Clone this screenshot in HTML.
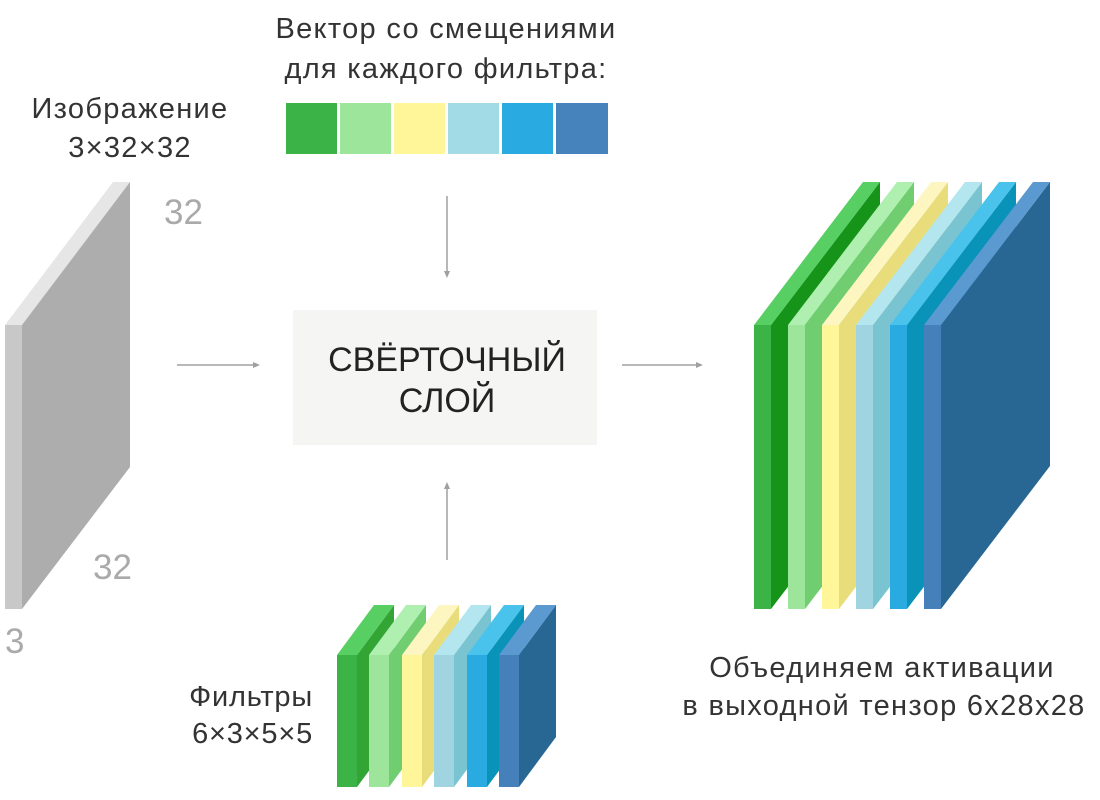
<!DOCTYPE html>
<html><head><meta charset="utf-8"><style>
html,body{margin:0;padding:0;background:#fff;}
svg{display:block;}
text{font-family:"Liberation Sans","DejaVu Sans",sans-serif;}
</style></head><body>
<svg width="1100" height="800" viewBox="0 0 1100 800" xmlns="http://www.w3.org/2000/svg">
<rect width="1100" height="800" fill="#fff"/>
<g fill="#333" font-size="29" text-anchor="middle" letter-spacing="1.3">
<text x="446" y="38">Вектор со смещениями</text>
<text x="446" y="78">для каждого фильтра:</text>
<text x="130" y="118">Изображение</text>
<text x="130" y="157">3×32×32</text>
<text x="882" y="677">Объединяем активации</text>
<text x="884" y="715">в выходной тензор 6x28x28</text>
</g>
<g fill="#333" font-size="29" text-anchor="end" letter-spacing="0.8">
<text x="313" y="706">Фильтры</text>
<text x="313" y="743">6×3×5×5</text>
</g>
<g>
<rect x="286" y="103" width="51" height="51" fill="#3bb346"/>
<rect x="340" y="103" width="51" height="51" fill="#9de59a"/>
<rect x="394" y="103" width="51" height="51" fill="#fff599"/>
<rect x="448" y="103" width="51" height="51" fill="#a2dbe6"/>
<rect x="502" y="103" width="51" height="51" fill="#29aae1"/>
<rect x="556" y="103" width="52" height="51" fill="#4682bc"/>
</g>
<polygon points="5,325 22,325 130,182 113,182" fill="#e6e6e6"/>
<polygon points="22,325 130,182 130,467 22,609" fill="#adadad"/>
<rect x="5" y="325" width="17" height="284" fill="#c8c8c8"/>
<g fill="#aaa" font-size="35">
<text x="164" y="224">32</text>
<text x="93" y="579">32</text>
<text x="5" y="653">3</text>
</g>
<rect x="293" y="310" width="304" height="135" fill="#f5f5f3"/>
<g fill="#222" font-size="34" text-anchor="middle">
<text x="447" y="371">СВЁРТОЧНЫЙ</text>
<text x="447" y="412">СЛОЙ</text>
</g>
<g stroke="#a0a0a0" stroke-width="1.5" fill="#a0a0a0">
<line x1="177" y1="365" x2="254" y2="365"/>
<polygon points="260,365 253,362 253,368" stroke="none"/>
<line x1="622" y1="365" x2="697" y2="365"/>
<polygon points="703,365 696,362 696,368" stroke="none"/>
<line x1="447" y1="196" x2="447" y2="272"/>
<polygon points="447,278 444,271 450,271" stroke="none"/>
<line x1="447" y1="560" x2="447" y2="488"/>
<polygon points="447,482 444,489 450,489" stroke="none"/>
</g>
<g>
<polygon points="771,325 880,182 880,466 771,609" fill="#16941a"/>
<polygon points="754,325 771,325 880,182 863,182" fill="#58cf63"/>
<rect x="754" y="325" width="17" height="284" fill="#3bb346"/>
<polygon points="805,325 914,182 914,466 805,609" fill="#70cd70"/>
<polygon points="788,325 805,325 914,182 897,182" fill="#aff0b1"/>
<rect x="788" y="325" width="17" height="284" fill="#9de59a"/>
<polygon points="839,325 948,182 948,466 839,609" fill="#e9dd7b"/>
<polygon points="822,325 839,325 948,182 931,182" fill="#fdf6c0"/>
<rect x="822" y="325" width="17" height="284" fill="#fff599"/>
<polygon points="873,325 982,182 982,466 873,609" fill="#7ac4d2"/>
<polygon points="856,325 873,325 982,182 965,182" fill="#b4e6ef"/>
<rect x="856" y="325" width="17" height="284" fill="#a0d4e0"/>
<polygon points="907,325 1016,182 1016,466 907,609" fill="#0993b8"/>
<polygon points="890,325 907,325 1016,182 999,182" fill="#4ac3ec"/>
<rect x="890" y="325" width="17" height="284" fill="#29aae1"/>
<polygon points="941,325 1050,182 1050,466 941,609" fill="#286793"/>
<polygon points="924,325 941,325 1050,182 1033,182" fill="#5b9ad0"/>
<rect x="924" y="325" width="17" height="284" fill="#4680bb"/>
</g>
<g>
<polygon points="357,655 394,605 394,737 357,787" fill="#33a535"/>
<polygon points="337,655 357,655 394,605 374,605" fill="#58cf63"/>
<rect x="337" y="655" width="20" height="132" fill="#3bb346"/>
<polygon points="389,655 426,605 426,737 389,787" fill="#70cd70"/>
<polygon points="369,655 389,655 426,605 406,605" fill="#aff0b1"/>
<rect x="369" y="655" width="20" height="132" fill="#9de59a"/>
<polygon points="422,655 459,605 459,737 422,787" fill="#e9dd7b"/>
<polygon points="402,655 422,655 459,605 439,605" fill="#fdf6c0"/>
<rect x="402" y="655" width="20" height="132" fill="#fff599"/>
<polygon points="454,655 491,605 491,737 454,787" fill="#7ac4d2"/>
<polygon points="434,655 454,655 491,605 471,605" fill="#b4e6ef"/>
<rect x="434" y="655" width="20" height="132" fill="#a0d4e0"/>
<polygon points="487,655 524,605 524,737 487,787" fill="#0993b8"/>
<polygon points="467,655 487,655 524,605 504,605" fill="#4ac3ec"/>
<rect x="467" y="655" width="20" height="132" fill="#29aae1"/>
<polygon points="519,655 556,605 556,737 519,787" fill="#286793"/>
<polygon points="499,655 519,655 556,605 536,605" fill="#5b9ad0"/>
<rect x="499" y="655" width="20" height="132" fill="#4680bb"/>
</g>
</svg>
</body></html>
